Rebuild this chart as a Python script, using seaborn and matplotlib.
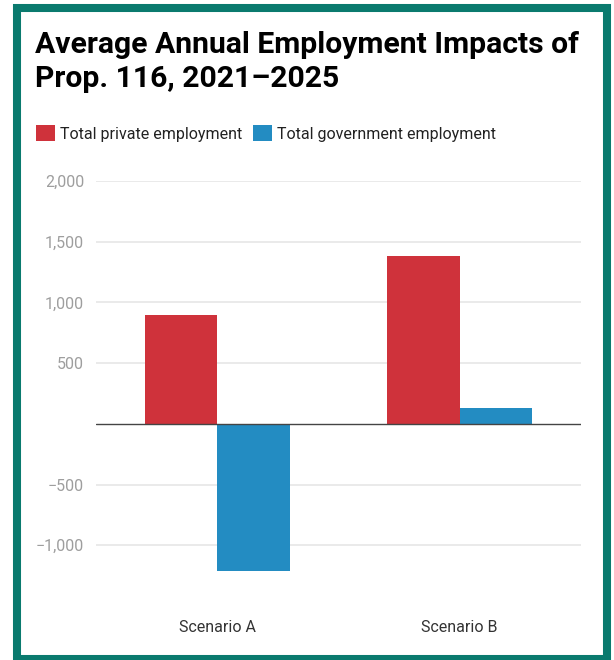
import matplotlib
matplotlib.use("Agg")
from matplotlib import pyplot as plt
from matplotlib.patches import Rectangle
import seaborn as sns
import pandas as pd

# data
scenarios = ["Scenario A", "Scenario B"]
series = ["Total private employment", "Total government employment"]
private_vals = [895, 1380]
government_vals = [-1215, 130]
yticks = [-1000, -500, 500, 1000, 1500, 2000]
ytick_labels = ["\u22121,000", "\u2212500", "500", "1,000", "1,500", "2,000"]
title_lines = ["Average Annual Employment Impacts of", "Prop. 116, 2021\u20132025"]

colors = ["#cf323b", "#238cc2"]
teal = "#0a7a6e"

df = pd.DataFrame({
    "Scenario": scenarios * 2,
    "Series": [series[0]] * 2 + [series[1]] * 2,
    "Value": private_vals + government_vals,
})

sns.set_style("white")
plt.rcParams["font.family"] = ["Roboto", "DejaVu Sans"]

fig = plt.figure(figsize=(6.14, 6.6), dpi=100)
ax = fig.add_axes([0.1564, 0.0818, 0.7898, 0.644])

sns.barplot(data=df, x="Scenario", y="Value", hue="Series", hue_order=series,
            palette=colors, width=0.6, saturation=1, ax=ax, errorbar=None,
            linewidth=0)

ax.set_xlim(-0.5, 1.5)
ax.set_ylim(-1500, 2000)
ax.set_yticks(yticks)
ax.set_yticklabels(ytick_labels)
ax.grid(axis="y", color="#e6e6e6", linewidth=1.2, zorder=0)
ax.set_axisbelow(True)
ax.axhline(0, color="#444444", linewidth=1.0, zorder=3)
ax.set_xlabel("")
ax.set_ylabel("")
sns.despine(ax=ax, left=True, bottom=True)
ax.tick_params(axis="y", length=0, pad=8.5, labelsize=11.5, labelcolor="#9e9e9e")
ax.tick_params(axis="x", length=0, pad=10, labelsize=11.5, labelcolor="#333333")

sns.move_legend(ax, loc="upper left", bbox_to_anchor=(0.0586, 0.8106),
                bbox_transform=fig.transFigure, ncol=2, frameon=False,
                title=None, fontsize=11.5, handlelength=1.19, handleheight=1.19,
                handletextpad=0.3, columnspacing=0.68, borderaxespad=0,
                borderpad=0)
for t in ax.get_legend().get_texts():
    t.set_color("#222222")

# title, two lines
fig.text(0.057, 0.9192, title_lines[0], fontsize=21.7, fontweight="bold",
         color="black", ha="left", va="baseline")
fig.text(0.057, 0.8677, title_lines[1], fontsize=21.7, fontweight="bold",
         color="black", ha="left", va="baseline")

fig.patches.append(Rectangle((0.0272, 0.0015), 0.9618, 0.9861, transform=fig.transFigure,
                             fill=False, edgecolor=teal, linewidth=5.8, zorder=10))

fig.savefig("out.png", dpi=100)
